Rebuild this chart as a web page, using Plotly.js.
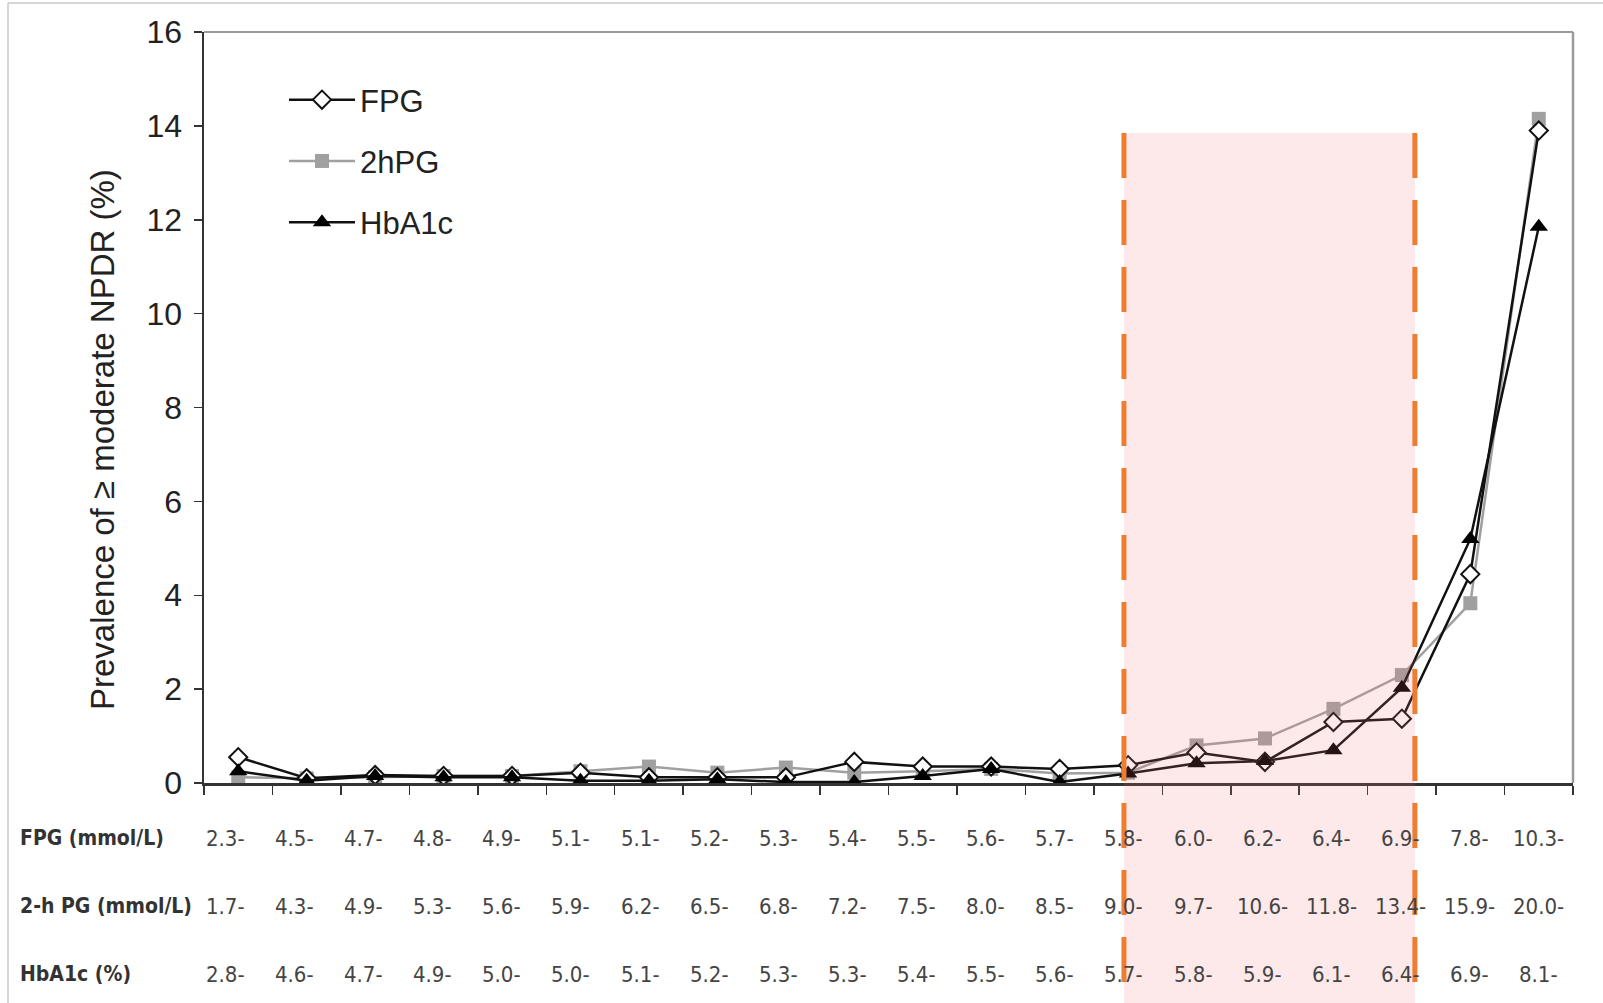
<!DOCTYPE html>
<html>
<head>
<meta charset="utf-8">
<script src="https://cdn.plot.ly/plotly-3.0.1.min.js"></script>
<style>
  html, body { margin: 0; padding: 0; background: #ffffff; }
  #chart { width: 1603px; height: 1003px; }
</style>
</head>
<body>
<div id="chart"></div>
<script>
// ---- Data ----
const fpgLabels = ['2.3-','4.5-','4.7-','4.8-','4.9-','5.1-','5.1-','5.2-','5.3-','5.4-','5.5-','5.6-','5.7-','5.8-','6.0-','6.2-','6.4-','6.9-','7.8-','10.3-'];
const pgLabels  = ['1.7-','4.3-','4.9-','5.3-','5.6-','5.9-','6.2-','6.5-','6.8-','7.2-','7.5-','8.0-','8.5-','9.0-','9.7-','10.6-','11.8-','13.4-','15.9-','20.0-'];
const hbLabels  = ['2.8-','4.6-','4.7-','4.9-','5.0-','5.0-','5.1-','5.2-','5.3-','5.3-','5.4-','5.5-','5.6-','5.7-','5.8-','5.9-','6.1-','6.4-','6.9-','8.1-'];
const rowNames  = ['FPG (mmol/L)', '2-h PG (mmol/L)', 'HbA1c (%)'];

const fpgValues   = [0.55,0.10,0.17,0.15,0.15,0.22,0.12,0.12,0.12,0.45,0.35,0.35,0.30,0.38,0.65,0.45,1.30,1.37,4.45,13.90];
const pg2hValues  = [0.12,0.10,0.12,0.15,0.15,0.25,0.35,0.22,0.33,0.22,0.25,0.30,0.20,0.22,0.80,0.95,1.58,2.30,3.83,14.15];
const hba1cValues = [0.25,0.05,0.15,0.12,0.12,0.05,0.05,0.08,0.02,0.02,0.15,0.30,0.02,0.20,0.42,0.47,0.70,2.03,5.20,11.85];

const yTitle = 'Prevalence of \u2265 moderate NPDR (%)';

// ---- Build ----
const n = fpgLabels.length;
const xs = fpgLabels.map((_, i) => i);
const boundaries = [];
for (let i = 0; i <= n; i++) boundaries.push(i - 0.5);

const mainFont = 'Liberation Sans, Arial, sans-serif';
const narrowFont = 'Liberation Sans Narrow, Arial Narrow, DejaVu Sans Condensed, Liberation Sans, sans-serif';

const traces = [
  {
    x: xs, y: pg2hValues, name: '2hPG', type: 'scatter', mode: 'lines+markers',
    line: { color: '#a0a0a0', width: 2.5 },
    marker: { symbol: 'square', size: 14, color: '#a0a0a0' },
    legendrank: 2, legendgroup: 'b'
  },
  {
    x: xs, y: fpgValues, name: 'FPG', type: 'scatter', mode: 'lines+markers',
    line: { color: '#111111', width: 2.5 },
    marker: { symbol: 'diamond', size: 14, color: '#ffffff', line: { color: '#111111', width: 2 } },
    legendrank: 1, legendgroup: 'a'
  },
  {
    x: xs, y: hba1cValues, name: 'HbA1c', type: 'scatter', mode: 'lines+markers',
    line: { color: '#111111', width: 2.5 },
    marker: { symbol: 'triangle-up', size: 16, color: '#000000' },
    legendrank: 3, legendgroup: 'c'
  }
];

const plotL = 204, plotR = 1573, plotT = 32, plotB = 783;
const plotH = plotB - plotT, plotW = plotR - plotL;
const rowY = [838, 906, 974].map(y => (plotB - y) / plotH);

const annotations = [];
[fpgLabels, pgLabels, hbLabels].forEach((labels, r) => {
  labels.forEach((t, i) => {
    annotations.push({
      x: i, xref: 'x', y: rowY[r], yref: 'paper',
      text: t, showarrow: false, xanchor: 'center', yanchor: 'middle',
      xshift: -13 + 13 * i / (n - 1),
      font: { family: narrowFont, size: 22, color: '#444444' }
    });
  });
  annotations.push({
    x: (18 - plotL) / plotW, xref: 'paper', y: rowY[r], yref: 'paper',
    text: '<b>' + rowNames[r] + '</b>', showarrow: false, xanchor: 'left', yanchor: 'middle',
    font: { family: narrowFont, size: 21, color: '#333333' }
  });
});
annotations.push({
  x: (102 - plotL) / plotW, xref: 'paper', y: (plotB - 440) / plotH, yref: 'paper',
  text: yTitle, showarrow: false, textangle: -90, xanchor: 'center', yanchor: 'middle',
  font: { family: mainFont, size: 33, color: '#222222' }
});

const orange = '#ed7d31';
const bandX0 = 12.94, bandX1 = 17.19;
const bandTop = (plotB - 133) / plotH, bandBottom = (plotB - 1010) / plotH;
const shapes = [
  // outer faint frame
  { type: 'line', xref: 'paper', yref: 'paper', x0: (8 - plotL) / plotW, x1: (1603 - plotL) / plotW,
    y0: (plotB - 3) / plotH, y1: (plotB - 3) / plotH, line: { color: '#c8c8c8', width: 1.5 } },
  { type: 'line', xref: 'paper', yref: 'paper', x0: (8 - plotL) / plotW, x1: (8 - plotL) / plotW,
    y0: (plotB - 3) / plotH, y1: bandBottom, line: { color: '#c8c8c8', width: 1.5 } },
  // plot top and right border (gray)
  { type: 'line', xref: 'paper', yref: 'paper', x0: 0, x1: 1, y0: 1, y1: 1, line: { color: '#9a9a9a', width: 2 } },
  { type: 'line', xref: 'paper', yref: 'paper', x0: 1, x1: 1, y0: 0, y1: 1, line: { color: '#9a9a9a', width: 2.5 } },
  // pink highlighted band
  { type: 'rect', xref: 'x', yref: 'paper', x0: bandX0, x1: bandX1, y0: bandBottom, y1: bandTop,
    fillcolor: 'rgba(240,120,120,0.16)', line: { width: 0 }, layer: 'above' },
  // orange dashed lines
  { type: 'line', xref: 'x', yref: 'paper', x0: bandX0, x1: bandX0, y0: bandTop, y1: bandBottom,
    line: { color: orange, width: 5, dash: '45px,22px' }, layer: 'above' },
  { type: 'line', xref: 'x', yref: 'paper', x0: bandX1, x1: bandX1, y0: bandTop, y1: bandBottom,
    line: { color: orange, width: 5, dash: '45px,22px' }, layer: 'above' }
];

const layout = {
  width: 1603, height: 1003,
  margin: { l: plotL, r: 1603 - plotR, t: plotT, b: 1003 - plotB, pad: 0 },
  paper_bgcolor: '#ffffff', plot_bgcolor: '#ffffff',
  showlegend: true,
  legend: {
    x: (284 - plotL) / plotW, y: (plotB - 73) / plotH, xanchor: 'left', yanchor: 'top',
    bgcolor: 'rgba(0,0,0,0)', font: { family: mainFont, size: 31, color: '#222222' },
    tracegroupgap: 18, itemwidth: 66
  },
  xaxis: {
    range: [-0.5, n - 0.5], showgrid: false, zeroline: false,
    showticklabels: false, tickmode: 'array', tickvals: boundaries,
    ticks: 'outside', ticklen: 9, tickwidth: 1.5, tickcolor: '#333333',
    showline: true, linecolor: '#333333', linewidth: 2.5
  },
  yaxis: {
    range: [0, 16], dtick: 2, tick0: 0, showgrid: false, zeroline: false,
    ticks: 'outside', ticklen: 8, tickwidth: 1.5, tickcolor: '#333333',
    showline: true, linecolor: '#333333', linewidth: 2.5,
    tickfont: { family: mainFont, size: 32, color: '#222222' }, ticklabelstandoff: 5
  },
  annotations: annotations,
  shapes: shapes
};

Plotly.newPlot('chart', traces, layout, { displayModeBar: false, staticPlot: true });
</script>
</body>
</html>
